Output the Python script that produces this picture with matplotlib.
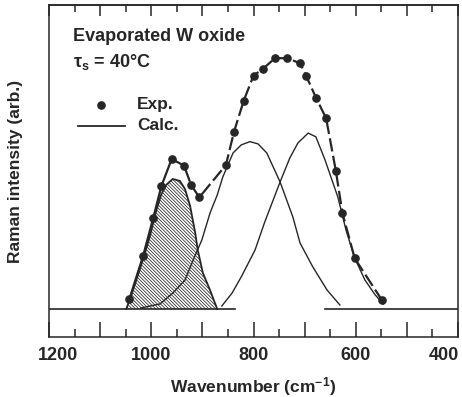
import numpy as np
import matplotlib
matplotlib.use('Agg')
import matplotlib.pyplot as plt
import matplotlib.transforms as mtransforms
from matplotlib import rcParams

params = {'font.family': 'Liberation Sans', 'font.weight': 'bold', 'font.size': 12.5,
          'axes.labelweight': 'bold',
          'mathtext.fontset': 'custom', 'mathtext.rm': 'Liberation Sans:bold',
          'mathtext.it': 'Liberation Sans:bold', 'mathtext.bf': 'Liberation Sans:bold',
          'hatch.linewidth': 0.55, 'hatch.color': '#2a2a2a'}
rcParams.update(params)

# experimental points (wavenumber, intensity arb.)
exp_wn = [1043, 1016, 996, 980, 960, 936, 922, 906, 854, 838, 819, 800, 782, 758,
          734, 709, 697, 678, 658, 639, 626, 602, 549]
exp_I = [3.8, 21.0, 36.2, 48.9, 59.5, 56.9, 49.2, 44.3, 57.1, 70.4, 82.7, 92.6, 95.2,
         99.5, 99.5, 97.5, 92.5, 83.9, 75.7, 54.9, 38.0, 20.1, 3.6]

# calculated band components
a_wn = [1049, 1040, 1028, 1014, 1002, 991, 981, 971, 958, 944, 934, 924, 914, 909, 899, 885, 871]
a_I = [0.0, 4.8, 12.3, 21.0, 29.4, 38.5, 45.2, 49.2, 51.6, 50.8, 47.6, 40.9, 30.2, 23.4, 14.3, 7.5, 0.0]

b_wn = [1020, 1002, 983, 958, 934, 918, 901, 885, 871, 860, 840, 824, 807, 791, 774,
        748, 723, 709, 684, 656, 631]
b_I = [0.4, 1.2, 2.0, 6.3, 11.5, 19.4, 27.4, 38.1, 45.2, 52.4, 61.9, 65.1, 66.4, 65.5,
       61.9, 50.4, 36.5, 26.2, 16.7, 7.5, 1.6]

c_wn = [862, 842, 823, 797, 778, 748, 729, 713, 693, 678, 660, 635, 619, 602, 582, 562, 546]
c_I = [1.2, 6.3, 13.1, 23.4, 34.5, 50.4, 59.9, 65.9, 69.8, 68.3, 59.1, 44.4, 31.3, 20.2,
       11.5, 5.6, 2.0]

# baseline is drawn broken between these two wavenumbers
base_gap = [836, 660]

major_ticks = [1200, 1100, 1000, 900, 800, 700, 600, 500, 400]
minor_ticks = [1150, 1050, 950, 850, 750, 650, 550, 450]
tick_labels = ['1200', '', '1000', '', '800', '', '600', '', '400']

c = '#262626'

fig = plt.figure(figsize=(4.62, 3.97), dpi=100)
ax = fig.add_axes([49/462, 60/397, 409/462, 332/397])

ax.set_xlim(1200, 400)
ax.set_ylim(-11.1, 120.6)

# shaded band
ax.fill_between(a_wn, a_I, 0, facecolor='none', edgecolor=c, hatch='\\' * 10, lw=0)
ax.plot(a_wn, a_I, color=c, lw=1.3)
ax.plot(b_wn, b_I, color=c, lw=1.0)
ax.plot(c_wn, c_I, color=c, lw=1.0)

# sum line through the points
ax.plot(exp_wn[:5], exp_I[:5], color=c, lw=1.6)
ax.plot(exp_wn[4:], exp_I[4:], color=c, lw=1.6, ls=(0, (6, 2)))
ax.plot(exp_wn, exp_I, 'o', ms=5.2, color=c, zorder=5)

# baseline
ax.plot([1200, base_gap[0]], [0, 0], color=c, lw=1.2)
ax.plot([base_gap[1], 400], [0, 0], color=c, lw=1.2)

ax.set_xticks(major_ticks)
ax.set_xticks(minor_ticks, minor=True)
ax.set_xticklabels(tick_labels)
ax.tick_params(axis='x', which='major', direction='in', length=10.8, width=1.1, pad=7, labelsize=13, colors=c)
ax.tick_params(axis='x', which='minor', direction='in', length=5.8, width=1.1, colors=c)
ax.tick_params(axis='y', left=False, labelleft=False)

labs = ax.get_xticklabels()
labs[0].set_transform(labs[0].get_transform() + mtransforms.ScaledTranslation(0.09, 0, fig.dpi_scale_trans))
labs[-1].set_transform(labs[-1].get_transform() + mtransforms.ScaledTranslation(-0.14, 0, fig.dpi_scale_trans))

top = ax.secondary_xaxis('top')
top.set_xticks(major_ticks)
top.set_xticks(minor_ticks, minor=True)
top.tick_params(which='major', direction='in', length=8, width=1.1, labeltop=False, colors=c)
top.tick_params(which='minor', direction='in', length=5, width=1.1, colors=c)
top.spines['top'].set_linewidth(1.1)
top.spines['top'].set_color(c)

for s in ax.spines.values():
    s.set_linewidth(1.1)
    s.set_color(c)

ax.set_xlabel('Wavenumber (cm$^{-1}$)', color=c, labelpad=8, fontweight='bold')
ax.set_ylabel('Raman intensity (arb.)', color=c, fontweight='bold')
ax.yaxis.set_label_coords(-0.064, 0.5)

ax.text(0.059, 0.904, 'Evaporated W oxide', transform=ax.transAxes, va='center', color=c, fontsize=13)
ax.text(0.059, 0.828, r'$\tau_{s}$ = 40°C', transform=ax.transAxes, va='center', color=c, fontsize=13)

# legend
ax.plot([0.127], [0.699], 'o', ms=5.2, color=c, transform=ax.transAxes)
ax.text(0.215, 0.699, 'Exp.', transform=ax.transAxes, va='center', color=c)
ax.plot([0.071, 0.186], [0.636, 0.636], color=c, lw=1.3, transform=ax.transAxes)
ax.text(0.215, 0.636, 'Calc.', transform=ax.transAxes, va='center', color=c)

fig.savefig('out.png', dpi=100)
